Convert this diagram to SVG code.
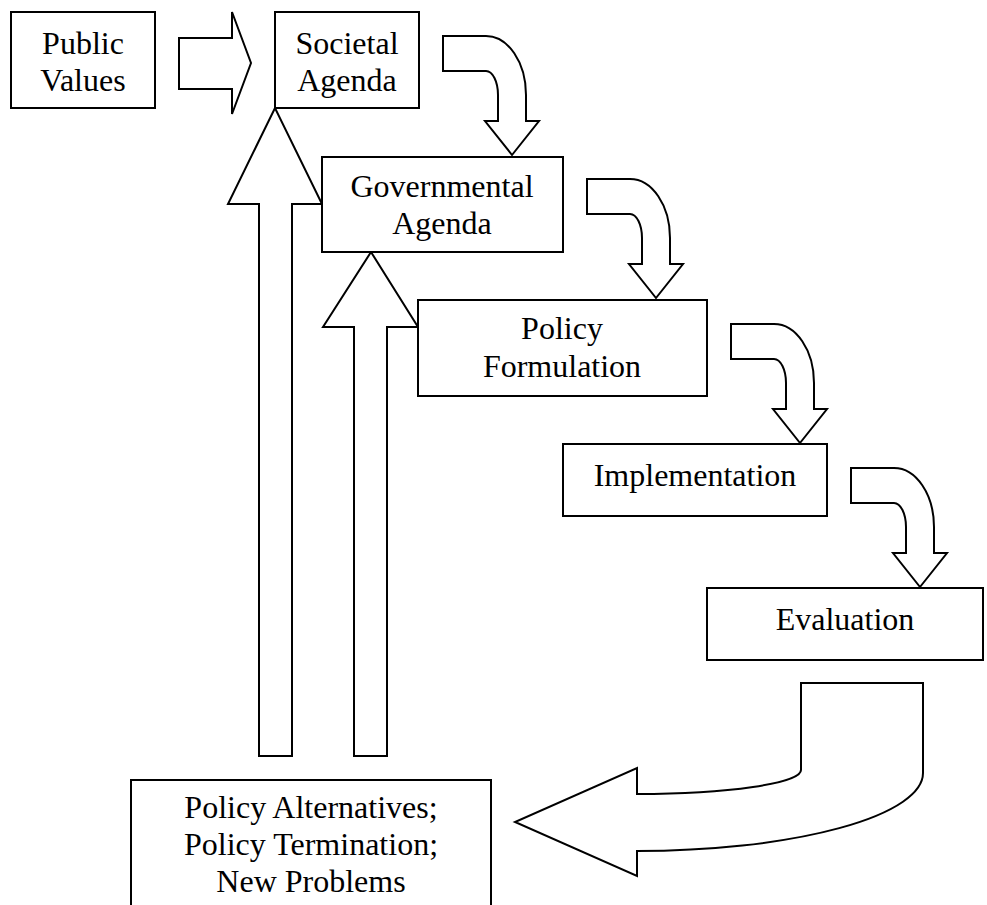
<svg xmlns="http://www.w3.org/2000/svg" xmlns:xlink="http://www.w3.org/1999/xlink" width="987" height="905" viewBox="0 0 987 905">
  <style>
    .box { fill: #ffffff; stroke: #000000; stroke-width: 2; }
    .arrow { fill: #ffffff; stroke: #000000; stroke-width: 2; stroke-linejoin: miter; }
    text { font-family: "Liberation Serif", "Times New Roman", Tinos, "DejaVu Serif", serif; font-size: 32px; fill: #000000; text-anchor: middle; }
  </style>
  <defs>
    <!-- Bent-down block arrow, tip at origin -->
    <path id="bentDown" class="arrow" d="M-69,-119 H-26 A40,59 0 0 1 14,-60 V-34 H27 L0,0 L-27,-34 H-14 V-60 A12,24 0 0 0 -26,-84 H-69 Z"/>
  </defs>

  <g id="connectors">
    <!-- Public Values to Societal Agenda -->
    <path class="arrow" d="M179,38 H232 V12 L251,63 L232,114 V89 H179 Z"/>
    <!-- Stage-to-stage bent arrows -->
    <use xlink:href="#bentDown" transform="translate(512,155)"/>
    <use xlink:href="#bentDown" transform="translate(656,298)"/>
    <use xlink:href="#bentDown" transform="translate(800,443)"/>
    <use xlink:href="#bentDown" transform="translate(920,587)"/>
    <!-- Feedback up to Societal Agenda -->
    <path class="arrow" d="M259,756 V204 H228 L275,108 L322,204 H292 V756 Z"/>
    <!-- Feedback up to Governmental Agenda -->
    <path class="arrow" d="M354,756 V327 H323 L371,252 L418,327 H387 V756 Z"/>
    <!-- Evaluation back to alternatives -->
    <path class="arrow" d="M801,683 H923 V773 A286,78 0 0 1 637,851 V876 L515,822 L637,768 V794 A164,24 0 0 0 801,770 Z"/>
  </g>

  <g id="public-values">
    <rect class="box" x="11" y="12" width="144" height="96"/>
    <text x="83" y="54">Public</text>
    <text x="83" y="91">Values</text>
  </g>

  <g id="societal-agenda">
    <rect class="box" x="275" y="12" width="144" height="96"/>
    <text x="347" y="54">Societal</text>
    <text x="347" y="91">Agenda</text>
  </g>

  <g id="governmental-agenda">
    <rect class="box" x="322" y="157" width="241" height="95"/>
    <text x="442" y="197">Governmental</text>
    <text x="442" y="234">Agenda</text>
  </g>

  <g id="policy-formulation">
    <rect class="box" x="418" y="300" width="289" height="96"/>
    <text x="562" y="339">Policy</text>
    <text x="562" y="377">Formulation</text>
  </g>

  <g id="implementation">
    <rect class="box" x="563" y="444" width="264" height="72"/>
    <text x="695" y="486">Implementation</text>
  </g>

  <g id="evaluation">
    <rect class="box" x="707" y="588" width="276" height="72"/>
    <text x="845" y="630">Evaluation</text>
  </g>

  <g id="policy-alternatives">
    <rect class="box" x="131" y="780" width="360" height="140"/>
    <text x="311" y="818">Policy Alternatives;</text>
    <text x="311" y="855">Policy Termination;</text>
    <text x="311" y="892">New Problems</text>
  </g>
</svg>
